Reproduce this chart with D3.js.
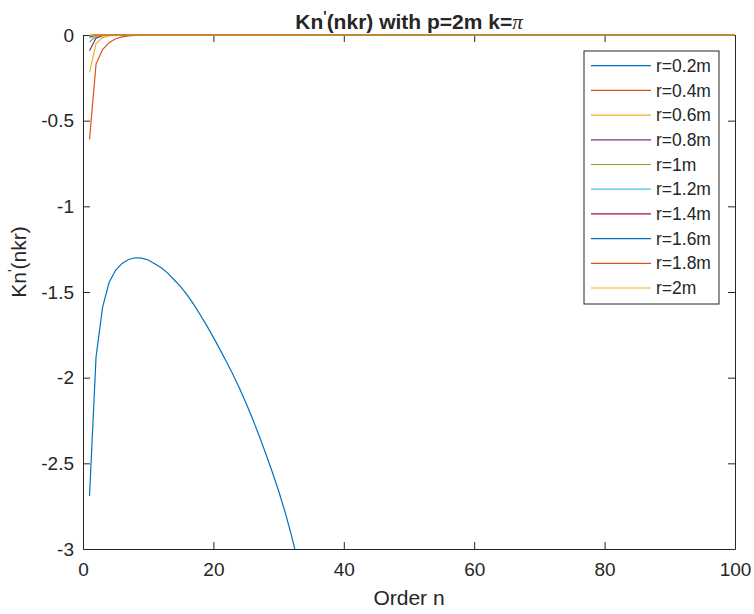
<!DOCTYPE html>
<html>
<head>
<meta charset="utf-8">
<script src="https://cdn.jsdelivr.net/npm/d3@7"></script>
<style>
  body { margin: 0; background: #fff; }
  svg text { font-family: "Liberation Sans", Arial, Helvetica, sans-serif; fill: #262626; }
</style>
</head>
<body>
<div class="chart"></div>
<script>
// series labels and MATLAB default line colours
const labels = ['r=0.2m','r=0.4m','r=0.6m','r=0.8m','r=1m','r=1.2m','r=1.4m','r=1.6m','r=1.8m','r=2m'];
const colors = ['#0072BD','#D95319','#EDB120','#7E2F8E','#77AC30','#4DBEEE','#A2142F','#0072BD','#D95319','#EDB120'];

// order n / value for each r
const n02 = [1,2,3,4,5,6,7,8,9,10,11,12,13,14,15,16,17,18,19,20,21,22,23,24,25,26,27,28,29,30,31,32,33];
const k02 = [-2.69,-1.88,-1.59,-1.445,-1.373,-1.333,-1.31,-1.30,-1.302,-1.313,-1.335,-1.358,-1.39,-1.43,-1.47,-1.518,-1.574,-1.634,-1.698,-1.765,-1.835,-1.907,-1.982,-2.062,-2.148,-2.24,-2.337,-2.44,-2.548,-2.66,-2.785,-2.925,-3.08];
const n04 = [1,2,3,4,5,6,7,8,10,100];
const k04 = [-0.61,-0.17,-0.085,-0.045,-0.022,-0.011,-0.005,-0.0025,-0.0006,0];
const n06 = [1,2,3,4,5,7,100];
const k06 = [-0.218,-0.05,-0.015,-0.005,-0.0015,-0.0002,0];
const n08 = [1,2,3,4,6,100];
const k08 = [-0.092,-0.018,-0.004,-0.001,-0.0001,0];
const n10 = [1,2,3,5,100];
const k10 = [-0.041,-0.007,-0.0012,-0.0001,0];
const n12 = [1,2,3,100];
const k12 = [-0.018,-0.003,-0.0005,0];
const n14 = [1,2,3,100];
const k14 = [-0.008,-0.0012,-0.0002,0];
const n16 = [1,2,100];
const k16 = [-0.004,-0.0005,0];
const n18 = [1,2,100];
const k18 = [-0.002,-0.0002,0];
const n20 = [1,2,100];
const k20 = [-0.001,-0.0001,0];

const xTicks = [0,20,40,60,80,100];
const yTicks = [-3,-2.5,-2,-1.5,-1,-0.5,0];

const allN = [n02,n04,n06,n08,n10,n12,n14,n16,n18,n20];
const allK = [k02,k04,k06,k08,k10,k12,k14,k16,k18,k20];
const series = labels.map((l, i) => ({
    label: l,
    color: colors[i],
    points: allN[i].map((n, j) => ({n: n, v: allK[i][j]}))
}));

const outerWidth = 754;
const outerHeight = 614;
const margin = {top:35, left:83, bottom:65, right:19};
const width = outerWidth - margin.left - margin.right;
const height = outerHeight - margin.top - margin.bottom;

const svg = d3.select('.chart')
            .append('svg')
            .attr('width', outerWidth)
            .attr('height', outerHeight)
            .append('g')
            .attr('transform', `translate(${margin.left}, ${margin.top})`);

let xScale = d3.scaleLinear().domain([0,100]).range([0, width]);
let yScale = d3.scaleLinear().domain([-3,0]).range([height, 0]);

svg.append('rect')
    .attr('width', width).attr('height', height)
    .attr('fill', '#fff');

// axes, ticks pointing inward, box on all sides (plain hyphen minus like MATLAB)
const fmt = d => String(d);
const xAxis = d3.axisBottom(xScale).tickValues(xTicks).tickSizeInner(-7).tickSizeOuter(0).tickPadding(14).tickFormat(fmt);
const yAxis = d3.axisLeft(yScale).tickValues(yTicks).tickSizeInner(-7).tickSizeOuter(0).tickPadding(9).tickFormat(fmt);
const xTop = d3.axisTop(xScale).tickValues(xTicks).tickSizeInner(-7).tickSizeOuter(0).tickFormat('');
const yRight = d3.axisRight(yScale).tickValues(yTicks).tickSizeInner(-7).tickSizeOuter(0).tickFormat('');

svg.append('g').attr('class', 'axis-x-axis').attr('transform', `translate(0, ${height})`).call(xAxis);
svg.append('g').attr('class', 'axis-y-axis').call(yAxis);
svg.append('g').attr('class', 'axis-top').call(xTop);
svg.append('g').attr('class', 'axis-right').attr('transform', `translate(${width}, 0)`).call(yRight);

svg.selectAll('.domain, .tick line').attr('stroke', '#262626').attr('stroke-width', 1);
svg.selectAll('.tick text').attr('font-size', 19).style('fill', '#262626')
    .attr('font-family', '"Liberation Sans", Arial, sans-serif');

// lines
svg.append('clipPath').attr('id', 'plot-clip')
    .append('rect').attr('x', 0).attr('y', -1).attr('width', width).attr('height', height + 1);

const line = d3.line()
    .x(d => xScale(d.n))
    .y(d => yScale(d.v));

svg.append('g')
    .attr('clip-path', 'url(#plot-clip)')
    .selectAll('path')
    .data(series)
    .join('path')
        .attr('fill', 'none')
        .attr('stroke', d => d.color)
        .attr('stroke-width', 1.2)
        .attr('d', d => line(d.points));

// title
const title = svg.append('text')
    .attr('x', width / 2)
    .attr('y', -6)
    .attr('text-anchor', 'middle')
    .attr('font-size', 21)
    .attr('font-weight', 'bold');
title.append('tspan').text('Kn');
title.append('tspan').attr('dy', -8).attr('font-size', 14).text("'");
title.append('tspan').attr('dy', 8).text('(nkr) with p=2m k=');
title.append('tspan').attr('font-family', '"Liberation Serif", serif').attr('font-style', 'italic')
    .attr('font-weight', 'normal').text('π');

// axis titles
svg.append('text')
    .attr('x', width / 2)
    .attr('y', height + 56)
    .attr('text-anchor', 'middle')
    .attr('font-size', 21)
    .text('Order n');

const yTitle = svg.append('text')
    .attr('transform', `translate(${-57}, ${height / 2 - 30}) rotate(-90)`)
    .attr('text-anchor', 'middle')
    .attr('font-size', 21);
yTitle.append('tspan').text('Kn');
yTitle.append('tspan').attr('dy', -8).attr('font-size', 14).text("'");
yTitle.append('tspan').attr('dy', 8).text('(nkr)');

// legend
const legend = svg.append('g').attr('transform', `translate(${584 - margin.left}, ${51 - margin.top})`);
legend.append('rect')
    .attr('width', 135).attr('height', 253)
    .attr('fill', '#fff').attr('stroke', '#262626').attr('stroke-width', 1);
const rows = legend.selectAll('.row')
    .data(series)
    .join('g')
    .attr('class', 'row')
    .attr('transform', (d, i) => `translate(0, ${14.7 + i * 24.7})`);
rows.append('line')
    .attr('x1', 7).attr('x2', 67)
    .attr('stroke', d => d.color).attr('stroke-width', 1.2);
rows.append('text')
    .attr('x', 72).attr('dy', '0.35em')
    .attr('font-size', 17.5)
    .text(d => d.label);
</script>
</body>
</html>
